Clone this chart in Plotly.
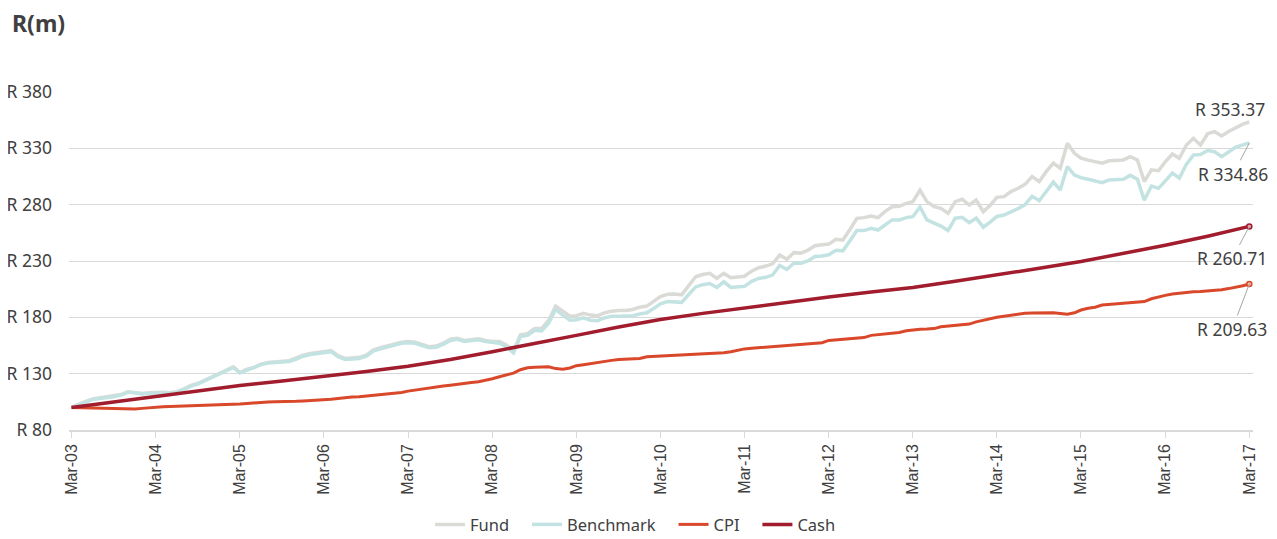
import pandas as pd
import plotly.graph_objects as go

months = pd.date_range("2003-03-01", periods=169, freq="MS")

fund = [
    100, 103, 105.5, 107.5, 108.5, 109, 110, 111.5, 114, 113.5, 112.5, 113,
    113.5, 113.5, 113, 114, 116.5, 119.5, 121.5, 124.5, 127, 130, 133, 136,
    131, 134, 135.5, 138.5, 140, 140.5, 141, 141.5, 144, 146.5, 148, 149,
    150, 150.5, 146, 143.5, 144, 144.5, 146.5, 151, 153, 154.5, 156, 158,
    158.5, 158, 156, 154, 154.5, 157, 160.5, 161.5, 159.5, 160.5, 161, 159.5,
    158.5, 158.5, 155.5, 150, 164.5, 165.5, 170, 170, 177.5, 190, 185.5, 181,
    181.5, 183.5, 182, 181.5, 184, 185.5, 186, 186, 187, 189, 190, 194,
    198.5, 200.5, 200.7, 200, 208, 216, 218, 219, 214.6, 219, 215.2, 216,
    216.5, 221, 224, 225.5, 227.5, 235.3, 231.5, 237.4, 237, 239.5, 243.5, 244.5,
    245, 249.2, 248.6, 258, 267.9, 268.5, 270, 268.5, 274, 278.2, 278.5, 281.2,
    282.7, 293, 282.7, 278.2, 276.8, 272.3, 282.7, 284.8, 279.7, 284.1, 273.8, 279.7,
    286.5, 287.1, 291.6, 294.6, 298, 304.9, 300.5, 309.3, 316.8, 312.3, 334.5, 325.6,
    321.2, 319.5, 318.2, 316.8, 319, 319.7, 319.7, 322.6, 319.7, 300.5, 310.9, 310.2,
    318, 325, 321.2, 333, 338.9, 333, 343, 344.8, 341, 345, 348.5, 351.5,
    353.37,
]

benchmark = [
    100, 102.5, 105, 107, 108, 108.5, 109.5, 111, 113.5, 113, 112, 112.5,
    113, 113, 112.5, 113.5, 116, 119, 121, 124, 126.5, 129.5, 132.5, 135.5,
    130.5, 133, 135, 138, 139.5, 140, 140.5, 140.8, 143, 145.5, 147, 148,
    149, 149.5, 145, 142.5, 143, 143.5, 145.5, 150, 152, 153.5, 155, 157,
    157.5, 157, 155, 153, 153.5, 156, 159.5, 160.5, 158.5, 159.5, 160, 158.5,
    157.5, 157, 154, 148.5, 163, 164, 168.5, 168, 175, 187, 182, 177.5,
    177.8, 179.5, 177.5, 177, 179.5, 181, 181, 181, 181.5, 183, 184, 188,
    192, 194, 193.5, 193.3, 200, 207, 209, 210, 206.5, 211.5, 206.5, 207,
    207.5, 212, 214.5, 215.5, 217.5, 226, 222.5, 228, 228, 230, 234, 234.5,
    235.5, 239.5, 239, 248, 257, 257, 259, 257.5, 262, 266.5, 266.5, 268.5,
    269.3, 278, 266.5, 263.5, 261, 257, 268, 268.8, 264, 268, 260, 264.8,
    269.5, 270.8, 273.5, 276.5, 280, 287.5, 283.5, 291.5, 300, 293, 313.8, 306.3,
    304, 302.5, 301, 299.5, 302, 302.5, 302.5, 306, 302.5, 284, 296.5, 294.5,
    301.5, 308, 303.5, 316, 324, 324.5, 328, 327, 322.6, 327, 331, 333,
    334.86,
]

cpi = [
    100, 99.8, 99.6, 99.5, 99.3, 99, 98.7, 98.5, 98.4, 98.6, 99.2, 99.8,
    100.3, 100.6, 100.8, 101, 101.1, 101.3, 101.5, 101.6, 101.8, 102, 102.3, 102.6,
    103, 103.6, 104.2, 104.5, 104.8, 105, 105, 105.2, 105.5, 105.8, 106, 106.3,
    106.7, 107.2, 108, 108.8, 109.2, 109.6, 110.2, 111, 111.6, 112, 112.5, 113.3,
    114.5, 115.5, 116.5, 117.3, 118.2, 119, 119.8, 120.8, 121.5, 122.2, 122.9, 124,
    125.5, 127.3, 128.8, 130.5, 133.5, 135.3, 135.6, 135.8, 136.2, 134.5, 133.9, 135,
    137.1, 138, 139, 140, 141.2, 141.8, 142.5, 142.7, 142.7, 143.5, 145, 145.3,
    146, 146.5, 146.6, 146.8, 147, 147.2, 147.5, 147.8, 148, 148.5, 149.5, 151,
    152, 152.5, 153, 153.4, 153.5, 154.5, 155, 155.5, 156, 156.3, 156.8, 157.5,
    159.5, 160, 160.5, 161, 161.4, 162, 164, 164.5, 165, 165.8, 166.6, 168,
    169, 169.5, 169.6, 170, 171.7, 172.3, 173, 173.5, 174, 176, 177.6, 178.8,
    180, 181, 182, 183, 183.6, 183.8, 184, 184.1, 184.1, 183.5, 182.7, 184,
    186.5, 188, 189, 190.9, 191.5, 192, 192.5, 193, 193.5, 194, 196.5, 198.3,
    199.5, 200.7, 201.5, 202, 202.8, 203, 203.4, 203.6, 204.5, 205.5, 206.6, 208,
    209.63,
]

cash_dates = [
    "2003-03-01", "2003-09-01", "2004-03-01", "2004-09-01", "2005-03-01", "2005-09-01",
    "2006-03-01", "2006-09-01", "2007-03-01", "2007-09-01", "2008-03-01", "2008-09-01",
    "2009-03-01", "2009-09-01", "2010-03-01", "2010-09-01", "2011-03-01", "2011-09-01",
    "2012-03-01", "2012-09-01", "2013-03-01", "2013-09-01", "2014-03-01", "2014-09-01",
    "2015-03-01", "2015-09-01", "2016-03-01", "2016-09-01", "2017-03-01",
]
cash = [
    100, 105, 110, 115, 119.5, 123.5,
    127.5, 132, 136.5, 142.5, 149.5, 156.5,
    164, 171.5, 178, 183.5, 188.5, 193.5,
    198, 202.5, 206.5, 212, 217.5, 223.5,
    229.5, 236.5, 244, 252, 260.71,
]

series_names = ["Fund", "Benchmark", "CPI", "Cash"]
y_ticks = [80, 130, 180, 230, 280, 330, 380]

C_FUND = "#dadad6"
C_BENCH = "#c3e3e2"
C_CPI = "#d9482a"
C_CASH = "#a11c2d"
TXT = "#404040"
PAD = "\u00a0\u00a0\u00a0"

fig = go.Figure()
fig.add_trace(go.Scatter(x=months, y=fund, name=series_names[0] + PAD, mode="lines",
                         line=dict(color=C_FUND, width=3.5)))
fig.add_trace(go.Scatter(x=months, y=benchmark, name=series_names[1] + PAD, mode="lines",
                         line=dict(color=C_BENCH, width=3.5)))
fig.add_trace(go.Scatter(x=months, y=cpi, name=series_names[2] + PAD, mode="lines",
                         line=dict(color=C_CPI, width=3)))
fig.add_trace(go.Scatter(x=pd.to_datetime(cash_dates), y=cash, name=series_names[3], mode="lines",
                         line=dict(color=C_CASH, width=3.5)))

# small end markers on CPI and Cash
fig.add_trace(go.Scatter(x=[months[-1]], y=[cpi[-1]], mode="markers", showlegend=False,
                         marker=dict(size=5, color="#f2b8a8", line=dict(color=C_CPI, width=1.5)),
                         hoverinfo="skip"))
fig.add_trace(go.Scatter(x=[pd.to_datetime(cash_dates[-1])], y=[cash[-1]], mode="markers",
                         showlegend=False,
                         marker=dict(size=5, color="#e6a8b0", line=dict(color=C_CASH, width=1.5)),
                         hoverinfo="skip"))

lab_font = dict(family="Noto Sans", size=17.5, color=TXT)
end_x = months[-1]
fig.add_annotation(x=end_x, y=fund[-1], text=f"R {fund[-1]:.2f}", showarrow=False,
                   xshift=-19, yshift=13, font=lab_font)
for val, ax, ay in [(benchmark[-1], -16, 31), (cash[-1], -17, 32), (cpi[-1], -17, 45)]:
    fig.add_annotation(x=end_x, y=val, text=f"R {val:.2f}", showarrow=True,
                       arrowhead=0, arrowwidth=1, arrowcolor="#a6a6a6",
                       ax=ax, ay=ay, font=lab_font, standoff=0)

fig.add_annotation(xref="paper", yref="paper", x=0, y=1, xanchor="left", yanchor="bottom",
                   text="<b>R(m)</b>", showarrow=False, xshift=-59, yshift=51,
                   font=dict(family="Noto Sans", size=23, color=TXT))

# page body has an 8px margin: figure coordinates = page coordinates - 8
fig.update_layout(
    width=1269, height=531,
    margin=dict(l=61, r=24, t=84, b=109, autoexpand=False),
    paper_bgcolor="white", plot_bgcolor="white",
    showlegend=True,
    legend=dict(orientation="h", xref="container", yref="container", x=0.4945, y=0.027,
                xanchor="center", yanchor="middle",
                font=dict(family="Noto Sans", size=16.5, color=TXT),
                itemwidth=30, tracegroupgap=0),
    xaxis=dict(type="date", range=["2003-02-18", "2017-03-17"], automargin=False,
               tick0="2003-03-01", dtick="M12", tickformat="%b-%y", tickangle=-90,
               ticks="outside", ticklen=6, tickcolor="#d9d9d9", tickwidth=1,
               showline=True, linecolor="#d9d9d9", linewidth=1.5,
               showgrid=False, zeroline=False,
               tickfont=dict(family="Liberation Sans", size=16, color=TXT)),
    yaxis=dict(range=[80, 380], tickvals=y_ticks, ticktext=[f"R {v}" for v in y_ticks],
               automargin=False,
               showgrid=True, gridcolor="#d9d9d9", gridwidth=1, zeroline=False,
               ticks="", ticklabelstandoff=16,
               tickfont=dict(family="Noto Sans", size=17.5, color=TXT)),
)

fig.write_html("out.html")
